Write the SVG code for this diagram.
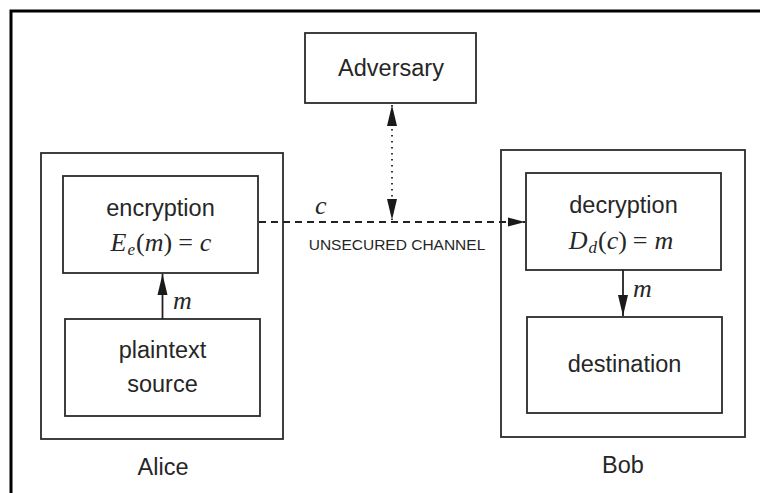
<svg xmlns="http://www.w3.org/2000/svg" width="760" height="493" viewBox="0 0 760 493">
  <style>
    .box { fill: #fff; stroke: #2b2b2b; stroke-width: 1.8; }
    .sans { font-family: "Liberation Sans", Arial, sans-serif; fill: #262626; text-anchor: middle; }
    .lbl { font-size: 23.5px; }
    .small { font-size: 15.5px; }
    .math { font-family: "Liberation Serif", "Times New Roman", serif; fill: #262626; font-size: 26px; }
    .it { font-style: italic; }
    .wire { stroke: #222; stroke-width: 1.8; fill: none; }
  </style>
  <defs>
    <marker id="head" markerUnits="userSpaceOnUse" markerWidth="22" markerHeight="12" viewBox="0 0 22 12" refX="21" refY="6" orient="auto-start-reverse">
      <path d="M0,1 L21,6 L0,11 z" fill="#1a1a1a"/>
    </marker>
    <marker id="headS" markerUnits="userSpaceOnUse" markerWidth="18" markerHeight="12" viewBox="0 0 18 12" refX="17" refY="6" orient="auto">
      <path d="M0,1.5 L17,6 L0,10.5 z" fill="#1a1a1a"/>
    </marker>
  </defs>

  <rect width="760" height="493" fill="#fff"/>

  <!-- frame: top and left rules -->
  <path d="M11,493 V11 H760" fill="none" stroke="#000" stroke-width="3"/>

  <g id="adversary">
    <rect class="box" x="305" y="33" width="171" height="70"/>
    <text class="sans lbl" x="391" y="76">Adversary</text>
  </g>

  <g id="alice">
    <rect class="box" x="41" y="153" width="242" height="286"/>
    <text class="sans lbl" x="163" y="475">Alice</text>
  </g>

  <g id="encryption">
    <rect class="box" x="63" y="176" width="195" height="97"/>
    <text class="sans lbl" x="160.5" y="216">encryption</text>
    <text class="math" x="161" y="251" text-anchor="middle"><tspan class="it">E</tspan><tspan class="it" font-size="17" dy="4" dx="1">e</tspan><tspan dy="-4" dx="1">(</tspan><tspan class="it">m</tspan><tspan>)</tspan><tspan dx="6">=</tspan><tspan class="it" dx="7">c</tspan></text>
  </g>

  <g id="plaintext-source">
    <rect class="box" x="65" y="319" width="195" height="97"/>
    <text class="sans lbl" x="162.5" y="358">plaintext</text>
    <text class="sans lbl" x="162.5" y="392">source</text>
  </g>

  <g id="bob">
    <rect class="box" x="501" y="150" width="244" height="287"/>
    <text class="sans lbl" x="623" y="473">Bob</text>
  </g>

  <g id="decryption">
    <rect class="box" x="526" y="173" width="195" height="97"/>
    <text class="sans lbl" x="623.5" y="213">decryption</text>
    <text class="math" x="621" y="249" text-anchor="middle"><tspan class="it">D</tspan><tspan class="it" font-size="17" dy="4" dx="1">d</tspan><tspan dy="-4" dx="1">(</tspan><tspan class="it">c</tspan><tspan>)</tspan><tspan dx="6">=</tspan><tspan class="it" dx="7">m</tspan></text>
  </g>

  <g id="destination">
    <rect class="box" x="527" y="317" width="195" height="96"/>
    <text class="sans lbl" x="624.5" y="372">destination</text>
  </g>

  <g id="connectors">
    <!-- plaintext source to encryption -->
    <line class="wire" x1="162.5" y1="319" x2="162.5" y2="274" marker-end="url(#head)"/>
    <text class="math it" x="173" y="309">m</text>
    <!-- decryption to destination -->
    <line class="wire" x1="623" y1="270" x2="623" y2="316" marker-end="url(#head)"/>
    <text class="math it" x="633" y="297">m</text>
    <!-- unsecured channel -->
    <line class="wire" x1="259" y1="222" x2="525" y2="222" stroke-dasharray="7,5" marker-end="url(#headS)"/>
    <text class="math it" x="315" y="214">c</text>
    <text class="sans small" x="397" y="250">UNSECURED CHANNEL</text>
    <!-- adversary taps the channel -->
    <line class="wire" x1="392" y1="105" x2="392" y2="220" stroke-width="1.4" stroke-dasharray="1.5,4.5" marker-start="url(#head)" marker-end="url(#head)"/>
  </g>
</svg>
